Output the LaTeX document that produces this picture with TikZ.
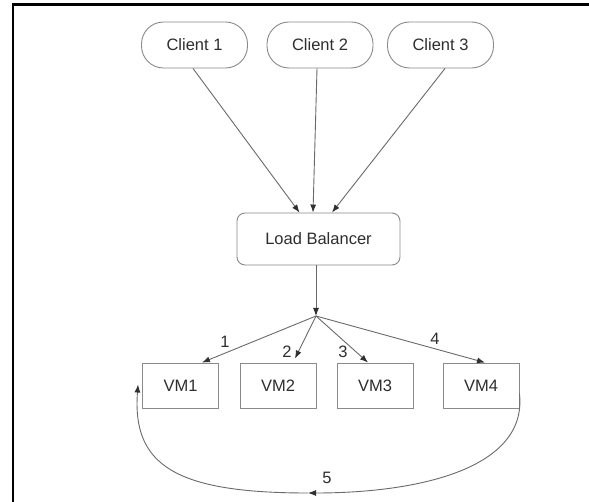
\documentclass[tikz,border=0pt]{standalone}
\usepackage{fontspec}
\setmainfont{Liberation Sans}
\usetikzlibrary{arrows.meta}
\definecolor{linec}{HTML}{6A6A6A}
\definecolor{boxc}{HTML}{8A8A8A}
\definecolor{txtc}{HTML}{2E2E2E}
\definecolor{tipc}{HTML}{303030}
\begin{document}
\begin{tikzpicture}[x=1pt,y=-1pt,
  every node/.style={font=\fontsize{16.5}{19}\selectfont, text=txtc},
  clientbox/.style={draw=boxc, line width=0.9pt, rounded corners=22pt, minimum width=106pt, minimum height=46pt, inner sep=0pt},
  lbbox/.style={draw=boxc, line width=0.9pt, rounded corners=8pt, minimum width=163pt, minimum height=52pt, inner sep=0pt},
  vmbox/.style={draw=boxc, line width=0.9pt, minimum width=76pt, minimum height=45pt, inner sep=0pt},
  conn/.style={draw=linec, line width=0.9pt, -{Latex[length=8pt,width=6pt,color=tipc]}},
  lbl/.style={inner sep=0pt}]
\useasboundingbox (0,0) rectangle (589,502);
\fill[white] (0,0) rectangle (589,502);
\draw[line width=2.6pt, black] (13,502) -- (13,4.5) -- (589,4.5);

\node[clientbox] (c1) at (194.5,45) {Client 1};
\node[clientbox] (c2) at (320,45) {Client 2};
\node[clientbox] (c3) at (440.5,45) {Client 3};
\node[lbbox] (lb) at (318.5,239) {Load Balancer};
\node[vmbox] (vm1) at (180.5,385.5) {VM1};
\node[vmbox] (vm2) at (278,385.5) {VM2};
\node[vmbox] (vm3) at (375,385.5) {VM3};
\node[vmbox] (vm4) at (481,385.5) {VM4};

\coordinate (j) at (316,316);
\coordinate (m) at (308,493);

\draw[conn] ([xshift=-1.5pt]c1.south) -- ([xshift=-19pt]lb.north);
\draw[conn] ([xshift=-3pt]c2.south) -- ([xshift=-5.5pt]lb.north);
\draw[conn] ([xshift=4.5pt]c3.south) -- ([xshift=13.5pt]lb.north);
\draw[conn] ([xshift=-2.5pt]lb.south) -- (j);

\draw[conn] (j) -- ([xshift=21.5pt]vm1.north);
\draw[conn] (j) -- ([xshift=17pt,yshift=4pt]vm2.north);
\draw[conn] (j) -- ([xshift=-7pt]vm3.north);
\draw[conn] (j) -- ([xshift=4pt]vm4.north);

\node[lbl] (n1) at (225,342) {1};
\node[lbl] (n2) at (287,352) {2};
\node[lbl] (n3) at (343,352) {3};
\node[lbl] (n4) at (435,339) {4};
\node[lbl] (n5) at (327,478) {5};

\draw[conn] ([yshift=-8pt]vm4.east) .. controls (528,468) and (420,493) .. (m);
\draw[conn] (m) .. controls (175,493) and (132,465) .. ([xshift=-4pt,yshift=1pt]vm1.west);
\end{tikzpicture}
\end{document}
